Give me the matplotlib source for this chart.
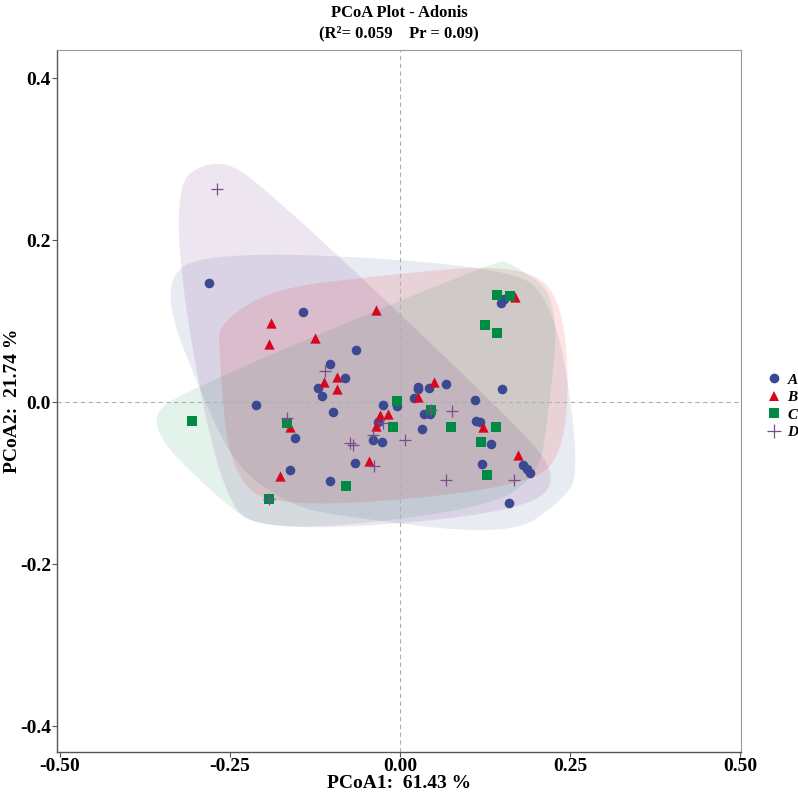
import numpy as np
import matplotlib
matplotlib.use("Agg")
import matplotlib.pyplot as plt
from matplotlib.lines import Line2D

plt.rcParams['font.family'] = ['Liberation Serif', 'DejaVu Serif']

GROUPS = ['A', 'B', 'C', 'D']
COLORS = ['#3B4992', '#D8061E', '#008B45', '#7A4C8E']
MARKERS = ['o', '^', 's', '+']

# group A
a_x = [-0.280, -0.143, -0.065, -0.103, -0.081, -0.120, -0.115, -0.211, -0.099, -0.154,
       -0.162, -0.103, -0.066, -0.039, -0.026, -0.025, -0.005, -0.033, 0.026, 0.026,
       0.043, 0.020, 0.035, 0.044, 0.032, 0.149, 0.153, 0.068, 0.150, 0.110,
       0.112, 0.117, 0.134, 0.121, 0.180, 0.187, 0.191, 0.160]
a_y = [0.147, 0.111, 0.064, 0.047, 0.030, 0.018, 0.008, -0.003, -0.012, -0.044,
       -0.084, -0.097, -0.075, -0.047, -0.049, -0.003, -0.005, -0.024, 0.019, 0.016,
       0.018, 0.005, -0.014, -0.015, -0.033, 0.123, 0.127, 0.023, 0.016, 0.003,
       -0.023, -0.024, -0.051, -0.076, -0.077, -0.082, -0.087, -0.124]
# group B
b_x = [-0.189, -0.192, -0.125, -0.036, -0.092, -0.111, -0.093, 0.050, 0.027, -0.029,
       -0.017, -0.036, -0.162, -0.176, -0.045, 0.122, 0.173, 0.169]
b_y = [0.098, 0.072, 0.079, 0.114, 0.031, 0.025, 0.016, 0.025, 0.007, -0.016,
       -0.015, -0.029, -0.031, -0.091, -0.073, -0.030, -0.065, 0.130]
# group C
c_x = [-0.305, -0.166, -0.192, -0.079, -0.011, -0.004, 0.045, 0.075, 0.141, 0.119,
       0.128, 0.125, 0.142, 0.142, 0.161]
c_y = [-0.023, -0.026, -0.120, -0.104, -0.031, 0.002, -0.009, -0.031, -0.030, -0.049,
       -0.090, 0.095, 0.085, 0.133, 0.131]
# group D
d_x = [-0.269, -0.110, -0.166, -0.074, -0.069, -0.039, -0.025, -0.038, 0.007, 0.045,
       0.076, 0.068, 0.167, -0.192]
d_y = [0.263, 0.039, -0.020, -0.050, -0.053, -0.040, -0.026, -0.079, -0.047, -0.010,
       -0.011, -0.096, -0.096, -0.120]

XS = [a_x, b_x, c_x, d_x]
YS = [a_y, b_y, c_y, d_y]
HULL_COLORS = ['#3B4992', '#EE0000', '#008B45', '#631879']


def convex_hull(pts):
    pts = sorted(set(map(tuple, pts)))

    def cross(o, a, b):
        return (a[0] - o[0]) * (b[1] - o[1]) - (a[1] - o[1]) * (b[0] - o[0])

    lower, upper = [], []
    for p in pts:
        while len(lower) >= 2 and cross(lower[-2], lower[-1], p) <= 0:
            lower.pop()
        lower.append(p)
    for p in reversed(pts):
        while len(upper) >= 2 and cross(upper[-2], upper[-1], p) <= 0:
            upper.pop()
        upper.append(p)
    return np.array(lower[:-1] + upper[:-1])


def encircle(x, y, ex=0.075, ey=0.042, n=5):
    x = np.asarray(x)
    y = np.asarray(y)
    pts = np.vstack([
        np.c_[x - ex, y], np.c_[x + ex, y],
        np.c_[x, y - ey], np.c_[x, y + ey],
    ])
    p = convex_hull(pts)
    for _ in range(n):
        q = np.roll(p, -1, axis=0)
        p = np.stack([0.75 * p + 0.25 * q, 0.25 * p + 0.75 * q], axis=1).reshape(-1, 2)
    return p


fig = plt.figure(figsize=(7.98, 7.96), dpi=100)
ax = fig.add_axes([0.0714, 0.0553, 0.8572, 0.8817])

for x, y, col in zip(XS, YS, HULL_COLORS):
    poly = encircle(x, y)
    ax.fill(poly[:, 0], poly[:, 1], color=col, alpha=0.11, lw=0, zorder=1)

ax.axhline(0, color='#b0b0b0', ls=(0, (4, 3)), lw=0.8, zorder=2)
ax.axvline(0, color='#b0b0b0', ls=(0, (4, 3)), lw=0.8, zorder=2)

for x, y, col, m in zip(XS, YS, COLORS, MARKERS):
    if m == '+':
        ax.scatter(x, y, marker='+', s=85, c=col, linewidths=0.9, zorder=3)
    elif m == '^':
        ax.scatter(x, y, marker='^', s=55, c=col, linewidths=0, zorder=3)
    elif m == 's':
        ax.scatter(x, y, marker='s', s=42, c=col, linewidths=0, zorder=3)
    else:
        ax.scatter(x, y, marker='o', s=48, c=col, linewidths=0, zorder=3)

ax.set_xlim(-0.504, 0.501)
ax.set_ylim(-0.432, 0.435)
ax.set_xticks([-0.5, -0.25, 0, 0.25, 0.5])
ax.set_xticklabels(['-0.50', '-0.25', '0.00', '0.25', '0.50'])
ax.set_yticks([-0.4, -0.2, 0, 0.2, 0.4])
ax.set_yticklabels(['-0.4', '-0.2', '0.0', '0.2', '0.4'])
ax.tick_params(labelsize=14, length=3.5, width=0.8, color='#555555', pad=0.8)
for lab in ax.get_xticklabels() + ax.get_yticklabels():
    lab.set_fontweight('bold')
for side in ['top', 'right']:
    ax.spines[side].set_color('#9a9a9a')
    ax.spines[side].set_linewidth(0.8)
for side in ['left', 'bottom']:
    ax.spines[side].set_color('#555555')
    ax.spines[side].set_linewidth(1.0)

ax.set_xlabel('PCoA1:  61.43 %', fontsize=14, fontweight='bold', labelpad=0)
ax.set_ylabel('PCoA2:  21.74 %', fontsize=14, fontweight='bold')
ax.yaxis.set_label_coords(-0.0526, 0.5)

fig.text(0.5, 0.984, 'PCoA Plot - Adonis', ha='center', va='center',
         fontsize=12, fontweight='bold')
fig.text(0.5, 0.9575, '(R\u00b2= 0.059    Pr = 0.09)', ha='center', va='center',
         fontsize=12, fontweight='bold')

handles = []
for g, col, m in zip(GROUPS, COLORS, MARKERS):
    handles.append(Line2D([], [], ls='none', marker=m, color=col,
                          markersize=7 if m != '+' else 10,
                          markeredgewidth=0 if m != '+' else 0.9))
leg = fig.legend(handles, GROUPS, loc='center left', bbox_to_anchor=(0.941, 0.49),
                 frameon=False, handletextpad=0.3, labelspacing=0.25, handlelength=1.2,
                 borderpad=0.4, prop={'size': 11, 'weight': 'bold', 'style': 'italic'})

fig.savefig('out.png', dpi=100)
